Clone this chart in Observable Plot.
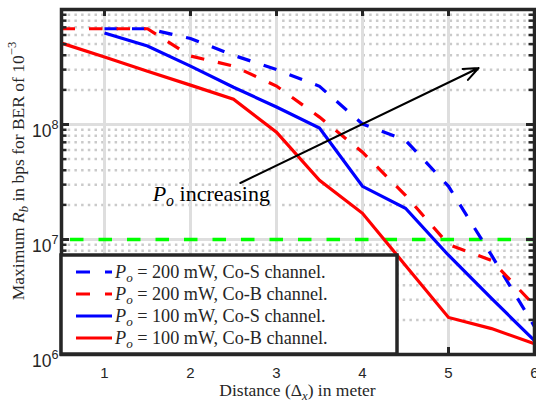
<!DOCTYPE html>
<html><head><meta charset="utf-8">
<script src="https://cdn.jsdelivr.net/npm/d3@7"></script>
<script src="https://cdn.jsdelivr.net/npm/@observablehq/plot@0.6"></script>
<style>html,body{margin:0;padding:0;background:#fff} svg{display:block}</style>
</head><body><div id="chart"></div>
<script>
// ---------- data ----------
const distance = [0.5, 1, 1.5, 2, 2.5, 3, 3.5, 4, 4.5, 5, 5.5, 6];
const rate200CoS = [null, 6.8e8, 6.8e8, 5.6e8, 4.0e8, 3.0e8, 2.15e8, 1.01e8, 7.3e7, 2.9e7, 7.3e6, 1.75e6];
const rate200CoB = [6.8e8, 6.8e8, 6.8e8, 3.94e8, 3.22e8, 2.16e8, 1.16e8, 5.74e7, 2.42e7, 9.06e6, 6.58e6, 2.67e6];
const rate100CoS = [null, 6.24e8, 4.81e8, 3.22e8, 2.11e8, 1.42e8, 9.3e7, 2.9e7, 1.87e7, 7.3e6, 3.07e6, 1.32e6];
const rate100CoB = [5.1e8, 3.86e8, 2.91e8, 2.2e8, 1.66e8, 8.57e7, 3.27e7, 1.69e7, 5.95e6, 2.1e6, 1.68e6, 1.24e6];
const seriesLabels = ["P_o = 200 mW, Co-S channel.", "P_o = 200 mW, Co-B channel.", "P_o = 100 mW, Co-S channel.", "P_o = 100 mW, Co-B channel."];
const seriesColors = ["#0000ff", "#ff0000", "#0000ff", "#ff0000"];
const seriesDashed = [true, true, false, false];
const thresholdRate = [1e7];
const xTicks = [1, 2, 3, 4, 5, 6];
const yMajorTicks = [1e6, 1e7, 1e8];
const yMinorTicks = [2e6,3e6,4e6,5e6,6e6,7e6,8e6,9e6, 2e7,3e7,4e7,5e7,6e7,7e7,8e7,9e7, 2e8,3e8,4e8,5e8,6e8,7e8,8e8,9e8];
const arrowFrom = [2.58, 3.1e7];
const arrowTo = [5.35, 3.1e8];
const noteAt = [1.56, 2.5e7];
const noteText = "P_o increasing";
const xLabel = "Distance (Δ_x) in meter";
const yLabel = "Maximum R_b in bps for BER of 10^{−3}";

// ---------- build ----------
const rates = [rate200CoS, rate200CoB, rate100CoS, rate100CoB];
const W = 536, H = 403, mL = 61, mR = 2, mT = 9, mB = 49;
const pw = W - mL - mR, ph = H - mT - mB;
const serif = "'Liberation Serif', 'DejaVu Serif', serif";
const frameColor = "#262626";

const seriesData = rates.map((arr, i) =>
  distance.map((x, j) => ({x, y: arr[j], s: i})).filter(d => d.y != null));

const lineMarks = seriesData.map((d, i) => Plot.line(d, {
  x: "x", y: "y", stroke: seriesColors[i], strokeWidth: 3.2,
  strokeDasharray: seriesDashed[i] ? "13.5,14" : null,
  strokeLinecap: "butt", strokeLinejoin: "miter", strokeMiterlimit: 4
}));

const svg = Plot.plot({
  width: W, height: H, marginLeft: mL, marginRight: mR, marginTop: mT, marginBottom: mB,
  style: {fontFamily: "'Liberation Sans', Arial, sans-serif", fontSize: "15px", color: frameColor, background: "#fff"},
  x: {domain: [0.5, 6]},
  y: {type: "log", domain: [1e6, 1e9]},
  marks: [
    Plot.ruleY(yMinorTicks, {stroke: "#cacaca", strokeWidth: 2.5, strokeDasharray: "2.5,4.2"}),
    Plot.ruleY(yMajorTicks, {stroke: "#dedede", strokeWidth: 3}),
    Plot.ruleX(xTicks, {stroke: "#dedede", strokeWidth: 3}),
    Plot.ruleY(thresholdRate, {stroke: "#00ff00", strokeWidth: 3.5, strokeDasharray: "13.5,15", strokeDashoffset: 19.5}),
    ...lineMarks,
    Plot.arrow([{x1: arrowFrom[0], y1: arrowFrom[1], x2: arrowTo[0], y2: arrowTo[1]}],
      {x1: "x1", y1: "y1", x2: "x2", y2: "y2", stroke: "#000", strokeWidth: 2, headLength: 12, headAngle: 45}),
    Plot.text([{x: noteAt[0], y: noteAt[1], t: noteText}],
      {x: "x", y: "y", text: "t", textAnchor: "start", fontFamily: serif, fontSize: 22, fill: "#000"}),
    // inside ticks
    Plot.tickX(xTicks, {stroke: frameColor, strokeWidth: 3, insetTop: ph - 7}),
    Plot.tickX(xTicks, {stroke: frameColor, strokeWidth: 3, insetBottom: ph - 7}),
    Plot.tickY(yMajorTicks, {stroke: frameColor, strokeWidth: 3, insetRight: pw - 8}),
    Plot.tickY(yMinorTicks, {stroke: frameColor, strokeWidth: 2.5, insetRight: pw - 5.5}),
    Plot.tickY(yMajorTicks, {stroke: frameColor, strokeWidth: 3, insetLeft: pw - 8}),
    Plot.tickY(yMinorTicks, {stroke: frameColor, strokeWidth: 2.5, insetLeft: pw - 5.5}),
    Plot.frame({stroke: frameColor, strokeWidth: 3.5}),
    Plot.axisX({ticks: xTicks, tickSize: 0, tickPadding: 13, label: null, tickFormat: d => String(d)}),
    Plot.axisY({ticks: yMajorTicks, tickSize: 0, tickPadding: 3, label: null, fontSize: 17.5,
      tickFormat: d => "10^{" + Math.round(Math.log10(d)) + "}"})
  ]
});

// rich-text helper: X_y -> italic X with italic subscript; ^{..} -> superscript
function addRich(sel, str) {
  const re = /([A-Za-zΔ])_(\w)|\^\{([^}]*)\}/g;
  let last = 0, m, pending = 0;
  const put = (txt, attrs) => {
    const t = sel.append("tspan").text(txt);
    for (const k in attrs) t.attr(k, attrs[k]);
    return t;
  };
  const plain = txt => { if (!txt) return; const t = put(txt, {}); if (pending) { t.attr("dy", pending + "em"); pending = 0; } };
  while ((m = re.exec(str))) {
    plain(str.slice(last, m.index));
    if (m[1]) {
      const b = put(m[1], {"font-style": m[1] === "Δ" ? "normal" : "italic"});
      if (pending) { b.attr("dy", pending + "em"); pending = 0; }
      put(m[2], {"font-style": "italic", "font-size": "0.72em", dy: "0.35em"});
      pending = -0.35 * 0.72;
    } else {
      const s = put(m[3], {"font-size": "0.72em", dy: "-0.62em"});
      if (pending) { s.attr("dy", (pending / 0.72 - 0.62) + "em"); }
      pending = 0.62 * 0.72;
    }
    last = re.lastIndex;
  }
  plain(str.slice(last));
}

const root = d3.select(svg);
root.selectAll('g[aria-label="y-axis tick label"] text').each(function () {
  const s = this.textContent; const el = d3.select(this); el.text(null); addRich(el, s);
  el.attr("dy", "0.4em");
});
root.selectAll('g[aria-label="text"] text').each(function () {
  const s = this.textContent; const el = d3.select(this); el.text(null); addRich(el, s);
});

// axis labels
addRich(root.append("text").attr("x", mL + pw / 2).attr("y", 396).attr("text-anchor", "middle")
  .attr("font-family", serif).attr("font-size", 17.5).attr("fill", frameColor), xLabel);
addRich(root.append("text").attr("transform", `translate(24,171) rotate(-90)`).attr("text-anchor", "middle")
  .attr("font-family", serif).attr("font-size", 17.5).attr("fill", frameColor), yLabel);

// legend
const lg = root.append("g");
const lx = mL, ly = 255, lw = 336, lh = H - mB - 255;
lg.append("rect").attr("x", lx).attr("y", ly).attr("width", lw).attr("height", lh)
  .attr("fill", "#fff").attr("stroke", frameColor).attr("stroke-width", 3.5);
seriesLabels.forEach((lab, i) => {
  const cy = 272 + i * 22;
  lg.append("line").attr("x1", 76).attr("x2", 112).attr("y1", cy).attr("y2", cy)
    .attr("stroke", seriesColors[i]).attr("stroke-width", 3.2)
    .attr("stroke-dasharray", seriesDashed[i] ? "14,15" : null);
  addRich(lg.append("text").attr("x", 115).attr("y", cy + 5.5).attr("text-anchor", "start")
    .attr("font-family", serif).attr("font-size", 18.2).attr("fill", frameColor), lab);
});

document.getElementById("chart").append(svg);
</script>
</body></html>
